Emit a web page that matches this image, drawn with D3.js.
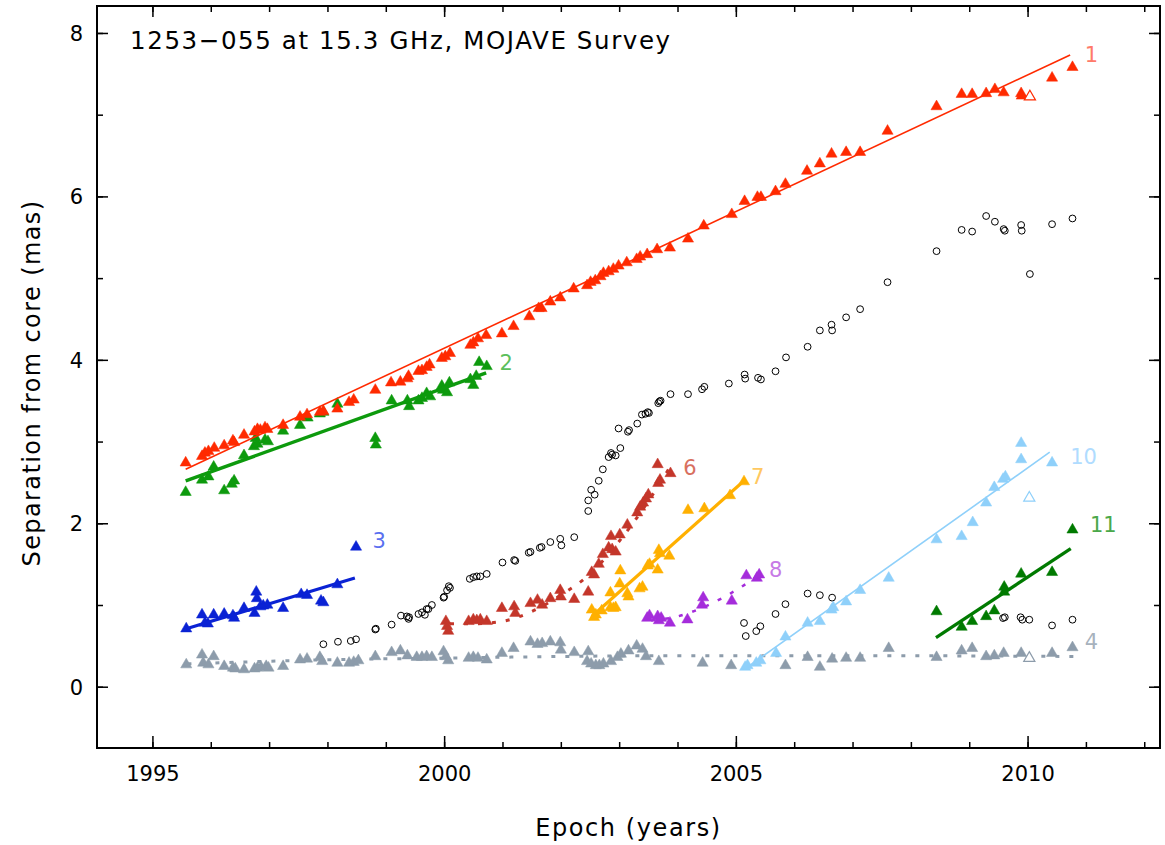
<!DOCTYPE html>
<html>
<head>
<meta charset="utf-8">
<script src="https://cdn.jsdelivr.net/npm/d3@7"></script>
<style>
  html, body { margin: 0; padding: 0; background: #fff; }
  svg { display: block; }
  text { font-family: "DejaVu Sans", sans-serif; }
</style>
</head>
<body>
<script>
// ---------------- DATA ----------------
const titleText = "1253\u2212055 at 15.3 GHz, MOJAVE Survey";
const xTitle = "Epoch (years)";
const yTitle = "Separation from core (mas)";
const xMajorTicks = [1995, 2000, 2005, 2010];
const xMinorTicks = [1995,1996,1997,1998,1999,2000,2001,2002,2003,2004,2005,2006,2007,2008,2009,2010,2011,2012];
const yMajorTicks = [0, 2, 4, 6, 8];
const yMinorTicks = [0, 1, 2, 3, 4, 5, 6, 7, 8];

// component 1 (red)
const comp1 = [[1995.57,2.74],[1995.85,2.82],[1995.90,2.86],[1995.96,2.88],[1996.06,2.92],[1996.23,2.95],[1996.38,3.01],[1996.40,2.99],[1996.57,3.08],[1996.75,3.12],[1996.80,3.15],[1996.85,3.14],[1996.93,3.17],[1996.97,3.15],[1997.24,3.20],[1997.53,3.30],[1997.65,3.33],[1997.87,3.36],[1997.93,3.37],[1998.17,3.40],[1998.37,3.48],[1998.45,3.51],[1998.82,3.63],[1999.09,3.72],[1999.25,3.73],[1999.37,3.77],[1999.39,3.80],[1999.56,3.86],[1999.62,3.87],[1999.70,3.91],[1999.75,3.94],[1999.96,4.02],[2000.02,4.04],[2000.10,4.08],[2000.45,4.18],[2000.50,4.21],[2000.58,4.26],[2000.72,4.30],[2000.99,4.32],[2001.19,4.41],[2001.46,4.53],[2001.62,4.63],[2001.67,4.63],[2001.82,4.71],[2001.99,4.76],[2002.22,4.87],[2002.45,4.91],[2002.51,4.95],[2002.59,4.97],[2002.68,5.02],[2002.73,5.06],[2002.82,5.08],[2002.90,5.11],[2002.99,5.15],[2003.13,5.19],[2003.30,5.23],[2003.36,5.26],[2003.48,5.29],[2003.65,5.35],[2003.87,5.37],[2004.18,5.48],[2004.45,5.64],[2004.93,5.78],[2005.15,5.94],[2005.37,5.99],[2005.43,5.99],[2005.68,6.06],[2005.85,6.15],[2006.22,6.31],[2006.44,6.40],[2006.64,6.52],[2006.89,6.54],[2007.13,6.54],[2007.60,6.80],[2008.44,7.10],[2008.87,7.25],[2009.05,7.25],[2009.29,7.26],[2009.44,7.31],[2009.59,7.27],[2009.89,7.26],[2009.90,7.23],[2010.42,7.45],[2010.77,7.58]];
const comp1Open = [[2010.04,7.22]];
const fit1 = [[1995.57,2.66],[2010.73,7.73]];

// component 2 (green)
const comp2 = [[1995.57,2.38],[1995.85,2.53],[1995.96,2.57],[1996.05,2.69],[1996.23,2.40],[1996.36,2.48],[1996.40,2.52],[1996.57,2.83],[1996.74,2.94],[1996.77,3.04],[1996.80,2.97],[1996.93,3.02],[1996.98,3.00],[1997.24,3.13],[1997.53,3.20],[1997.66,3.29],[1997.87,3.34],[1997.93,3.36],[1998.17,3.46],[1998.82,3.04],[1998.83,2.96],[1999.10,3.50],[1999.37,3.50],[1999.40,3.43],[1999.56,3.50],[1999.62,3.53],[1999.70,3.59],[1999.76,3.55],[1999.96,3.68],[1999.98,3.63],[2000.05,3.60],[2000.09,3.72],[2000.45,3.76],[2000.50,3.69],[2000.55,3.80],[2000.60,3.97],[2000.73,3.92]];
const fit2 = [[1995.57,2.52],[2000.72,3.84]];

// component 3 (blue)
const comp3 = [[1995.58,0.71],[1995.85,0.88],[1995.90,0.78],[1995.95,0.77],[1996.05,0.88],[1996.23,0.89],[1996.38,0.87],[1996.40,0.84],[1996.57,0.96],[1996.75,0.90],[1996.78,1.16],[1996.79,1.08],[1996.85,0.98],[1996.90,0.99],[1996.97,1.00],[1997.24,0.96],[1997.55,1.13],[1997.65,1.12],[1997.89,1.05],[1997.93,1.03],[1998.17,1.25],[1998.49,1.71]];
const fit3 = [[1995.58,0.71],[1998.47,1.33]];

// component 4 (grey)
const comp4 = [[1995.58,0.27],[1995.85,0.39],[1995.87,0.29],[1995.96,0.27],[1996.05,0.37],[1996.23,0.25],[1996.38,0.23],[1996.42,0.22],[1996.57,0.21],[1996.75,0.22],[1996.80,0.23],[1996.86,0.24],[1996.95,0.25],[1996.99,0.23],[1997.24,0.25],[1997.53,0.33],[1997.65,0.34],[1997.87,0.36],[1997.91,0.31],[1998.17,0.29],[1998.37,0.29],[1998.45,0.30],[1998.53,0.32],[1998.82,0.37],[1999.10,0.42],[1999.25,0.44],[1999.37,0.38],[1999.53,0.36],[1999.62,0.36],[1999.70,0.37],[1999.79,0.36],[1999.99,0.43],[2000.03,0.37],[2000.07,0.32],[2000.42,0.35],[2000.50,0.36],[2000.58,0.35],[2000.73,0.33],[2000.99,0.41],[2001.19,0.47],[2001.48,0.55],[2001.60,0.52],[2001.68,0.53],[2001.82,0.55],[2001.99,0.54],[2002.00,0.45],[2002.23,0.42],[2002.47,0.43],[2002.45,0.31],[2002.52,0.28],[2002.60,0.26],[2002.66,0.26],[2002.73,0.28],[2002.86,0.31],[2002.97,0.36],[2003.03,0.40],[2003.16,0.44],[2003.30,0.50],[2003.40,0.46],[2003.46,0.37],[2003.68,0.31],[2004.43,0.29],[2004.92,0.26],[2005.85,0.26],[2006.23,0.36],[2006.44,0.24],[2006.65,0.34],[2006.89,0.35],[2007.13,0.35],[2007.62,0.47],[2008.44,0.36],[2008.87,0.44],[2009.05,0.47],[2009.29,0.37],[2009.43,0.38],[2009.59,0.41],[2009.89,0.41],[2010.42,0.41],[2010.77,0.48]];
const comp4Open = [[2010.03,0.35]];
const fit4 = [[1995.6,0.28],[1998.0,0.33],[2000.0,0.35],[2002.0,0.37],[2004.0,0.38],[2007.0,0.38],[2010.8,0.37]];

// component 6 (dark red)
const comp6 = [[2000.03,0.80],[2000.05,0.74],[2000.07,0.68],[2000.42,0.80],[2000.50,0.82],[2000.56,0.81],[2000.62,0.82],[2000.73,0.80],[2000.99,0.96],[2001.20,0.98],[2001.22,0.90],[2001.48,1.02],[2001.60,1.06],[2001.68,1.00],[2001.82,1.08],[2001.99,1.18],[2002.00,1.10],[2002.23,1.07],[2002.47,1.16],[2002.53,1.40],[2002.57,1.37],[2002.65,1.50],[2002.72,1.62],[2002.82,1.70],[2002.88,1.68],[2002.94,1.65],[2002.86,1.84],[2003.01,1.86],[2003.14,1.98],[2003.31,2.13],[2003.36,2.20],[2003.41,2.25],[2003.46,2.30],[2003.50,2.35],[2003.67,2.49],[2003.70,2.53],[2003.66,2.72],[2003.88,2.61]];
const fit6 = [[2000.1,0.77],[2000.5,0.77],[2001.0,0.80],[2001.5,0.92],[2002.0,1.12],[2002.5,1.38],[2003.0,1.78],[2003.5,2.27],[2003.88,2.70]];

// component 7 (orange)
const comp7 = [[2002.53,0.94],[2002.57,0.85],[2002.60,0.88],[2002.70,0.93],[2002.85,0.97],[2002.90,0.96],[2002.94,0.97],[2002.85,1.15],[2003.01,1.26],[2003.02,1.42],[2003.14,1.14],[2003.16,1.10],[2003.35,1.20],[2003.40,1.22],[2003.49,1.48],[2003.52,1.50],[2003.66,1.43],[2003.68,1.67],[2003.70,1.63],[2003.86,1.60],[2004.18,2.16],[2004.46,2.18],[2004.90,2.34],[2005.14,2.51]];
const fit7 = [[2002.53,0.86],[2005.14,2.52]];

// component 8 (purple)
const comp8 = [[2003.48,0.84],[2003.52,0.87],[2003.66,0.86],[2003.68,0.81],[2003.72,0.84],[2003.87,0.78],[2004.17,0.82],[2004.42,1.00],[2004.44,1.09],[2004.93,1.05],[2005.18,1.36],[2005.36,1.33],[2005.40,1.37]];
const fit8 = [[2003.55,0.81],[2004.0,0.86],[2004.5,0.99],[2005.0,1.18],[2005.39,1.36]];

// component 10 (light blue)
const comp10 = [[2005.16,0.24],[2005.20,0.26],[2005.35,0.29],[2005.42,0.32],[2005.69,0.41],[2005.85,0.61],[2006.23,0.78],[2006.44,0.80],[2006.64,0.94],[2006.67,0.97],[2006.89,1.04],[2007.13,1.18],[2007.62,1.33],[2008.44,1.80],[2008.87,1.84],[2009.06,2.01],[2009.29,2.25],[2009.43,2.44],[2009.58,2.54],[2009.62,2.57],[2009.89,2.98],[2009.89,2.78],[2010.42,2.74]];
const comp10Open = [[2010.03,2.31]];
const fit10 = [[2005.16,0.22],[2010.38,2.87]];

// component 11 (dark green)
const comp11 = [[2008.44,0.92],[2008.87,0.73],[2009.05,0.80],[2009.29,0.86],[2009.43,0.93],[2009.60,1.22],[2009.60,1.16],[2009.89,1.38],[2010.42,1.40],[2010.77,1.92]];
const fit11 = [[2008.43,0.60],[2010.74,1.69]];

// unassigned components (open circles)
const others = [[1997.93,0.52],[1998.18,0.55],[1998.40,0.56],[1998.49,0.58],[1998.82,0.70],[1998.83,0.71],[1999.10,0.76],[1999.26,0.87],[1999.36,0.86],[1999.39,0.83],[1999.40,0.85],[1999.56,0.89],[1999.62,0.91],[1999.67,0.88],[1999.70,0.95],[1999.73,0.95],[1999.79,1.00],[1999.99,1.09],[2000.00,1.10],[2000.05,1.18],[2000.08,1.23],[2000.10,1.21],[2000.44,1.32],[2000.50,1.34],[2000.56,1.35],[2000.62,1.35],[2000.73,1.38],[2001.00,1.52],[2001.20,1.55],[2001.22,1.54],[2001.45,1.64],[2001.48,1.65],[2001.64,1.70],[2001.67,1.71],[2001.82,1.77],[2001.99,1.81],[2002.01,1.73],[2002.23,1.83],[2002.47,2.15],[2002.47,2.28],[2002.52,2.41],[2002.58,2.35],[2002.65,2.52],[2002.72,2.66],[2002.82,2.81],[2002.86,2.86],[2002.88,2.84],[2002.94,2.83],[2003.02,2.92],[2002.99,3.16],[2003.15,3.12],[2003.17,3.14],[2003.31,3.22],[2003.39,3.33],[2003.45,3.34],[2003.49,3.36],[2003.51,3.35],[2003.67,3.47],[2003.69,3.49],[2003.71,3.50],[2003.88,3.58],[2004.18,3.58],[2004.42,3.64],[2004.46,3.67],[2004.88,3.71],[2005.15,3.82],[2005.16,3.77],[2005.38,3.78],[2005.43,3.76],[2005.68,3.86],[2005.86,4.03],[2006.23,4.16],[2006.44,4.36],[2006.64,4.43],[2006.65,4.36],[2006.89,4.52],[2007.13,4.62],[2007.60,4.95],[2008.44,5.33],[2008.87,5.59],[2009.05,5.57],[2009.29,5.76],[2009.44,5.69],[2009.59,5.60],[2009.61,5.58],[2009.89,5.65],[2009.90,5.58],[2010.04,5.05],[2010.42,5.66],[2010.77,5.73],[2005.14,0.78],[2005.17,0.62],[2005.35,0.68],[2005.42,0.74],[2005.68,0.89],[2005.85,1.01],[2006.23,1.14],[2006.44,1.12],[2006.65,1.09],[2009.58,0.84],[2009.61,0.85],[2009.88,0.85],[2009.91,0.82],[2010.03,0.82],[2010.42,0.75],[2010.77,0.82]];

const labels = [
  {text:"1",  x:2010.98, y:7.64, color:"#ff7a6a"},
  {text:"2",  x:2000.95, y:3.88, color:"#5cbf5c"},
  {text:"3",  x:1998.77, y:1.70, color:"#5a6ff0"},
  {text:"4",  x:2010.98, y:0.46, color:"#a7b2bd"},
  {text:"6",  x:2004.10, y:2.59, color:"#d8705f"},
  {text:"7",  x:2005.26, y:2.48, color:"#ffc860"},
  {text:"8",  x:2005.57, y:1.34, color:"#c77ae6"},
  {text:"10", x:2010.73, y:2.73, color:"#b0dcff"},
  {text:"11", x:2011.07, y:1.89, color:"#4aa84a"}
];

// ---------------- CHART ----------------
(function () {
const W = 1165, H = 845;
const mLeft = 97, mRight = 1160, mTop = 6, mBottom = 748;
const svg = d3.select("body").append("svg").attr("width", W).attr("height", H);

const x = d3.scaleLinear().domain([1994.05, 2012.27]).range([mLeft, mRight]);
const y = d3.scaleLinear().domain([-0.75, 8.33]).range([mBottom, mTop]);

const plot = svg.append("g");
const line = d3.line().x(d => x(d[0])).y(d => y(d[1]));
const curve = d3.line().x(d => x(d[0])).y(d => y(d[1])).curve(d3.curveMonotoneX);
const tri = d3.symbol().type(d3.symbolTriangle).size(54);

function drawTris(data, color, open) {
  plot.append("g").selectAll("path").data(data).join("path")
    .attr("transform", d => `translate(${x(d[0])},${y(d[1])})`)
    .attr("d", tri)
    .attr("fill", open ? "#fff" : color)
    .attr("stroke", color)
    .attr("stroke-width", open ? 1.2 : 0.5);
}
function drawFit(data, color, width, dotted) {
  const p = plot.append("path").datum(data)
    .attr("d", dotted ? curve : line)
    .attr("fill", "none").attr("stroke", color).attr("stroke-width", width);
  if (dotted) p.attr("stroke-dasharray", "4,10");
}

drawFit(fit4, "#8d9cab", 3, true);
drawTris(comp4, "#8d9cab", false);
drawTris(comp4Open, "#8d9cab", true);

plot.append("g").selectAll("circle").data(others).join("circle")
  .attr("cx", d => x(d[0])).attr("cy", d => y(d[1])).attr("r", 3.4)
  .attr("fill", "none").attr("stroke", "#000").attr("stroke-width", 1);

drawTris(comp3, "#0a22d4", false);
drawFit(fit3, "#0a22d4", 3.2, false);
drawTris(comp6, "#c4362a", false);
drawFit(fit6, "#c4362a", 3, true);
drawTris(comp7, "#ffb000", false);
drawFit(fit7, "#ffb000", 3.2, false);
drawTris(comp8, "#a52cdb", false);
drawFit(fit8, "#a52cdb", 2.5, true);
drawTris(comp10, "#8fd0fa", false);
drawTris(comp10Open, "#8fd0fa", true);
drawFit(fit10, "#8fd0fa", 1.6, false);
drawTris(comp11, "#007a00", false);
drawFit(fit11, "#007a00", 3.2, false);
drawTris(comp2, "#0d9a0d", false);
drawFit(fit2, "#0d9a0d", 3.5, false);
drawTris(comp1, "#ff2a00", false);
drawTris(comp1Open, "#ff2a00", true);
drawFit(fit1, "#ff2a00", 1.6, false);

svg.append("g").selectAll("text").data(labels).join("text")
  .attr("x", d => x(d.x)).attr("y", d => y(d.y))
  .attr("fill", d => d.color).attr("font-size", 21)
  .text(d => d.text);

const axG = svg.append("g");
function styleAxis(g) {
  g.select(".domain").remove();
  g.selectAll(".tick line").attr("stroke", "#000").attr("stroke-width", 1.5);
  g.selectAll("text").attr("font-family", "DejaVu Sans, sans-serif").attr("fill", "#000");
}
axG.append("g").attr("transform", `translate(0,${mBottom})`)
  .call(d3.axisBottom(x).tickValues(xMinorTicks).tickSize(-6).tickFormat(""))
  .call(styleAxis);
axG.append("g").attr("transform", `translate(0,${mBottom})`)
  .call(d3.axisBottom(x).tickValues(xMajorTicks).tickSize(-12).tickFormat(d3.format("d")))
  .call(styleAxis)
  .call(g => g.selectAll("text").attr("font-size", 21).attr("dy", "0").attr("y", 33));
axG.append("g").attr("transform", `translate(0,${mTop})`)
  .call(d3.axisTop(x).tickValues(xMinorTicks).tickSize(-6).tickFormat(""))
  .call(styleAxis);
axG.append("g").attr("transform", `translate(0,${mTop})`)
  .call(d3.axisTop(x).tickValues(xMajorTicks).tickSize(-11).tickFormat(""))
  .call(styleAxis);
axG.append("g").attr("transform", `translate(${mLeft},0)`)
  .call(d3.axisLeft(y).tickValues(yMinorTicks).tickSize(-6).tickFormat(""))
  .call(styleAxis);
axG.append("g").attr("transform", `translate(${mLeft},0)`)
  .call(d3.axisLeft(y).tickValues(yMajorTicks).tickSize(-11).tickFormat(d3.format("d")))
  .call(styleAxis)
  .call(g => g.selectAll("text").attr("font-size", 21).attr("x", -14).attr("dy", "0.36em"));
axG.append("g").attr("transform", `translate(${mRight},0)`)
  .call(d3.axisRight(y).tickValues(yMinorTicks).tickSize(-6).tickFormat(""))
  .call(styleAxis);
axG.append("g").attr("transform", `translate(${mRight},0)`)
  .call(d3.axisRight(y).tickValues(yMajorTicks).tickSize(-11).tickFormat(""))
  .call(styleAxis);

svg.append("rect").attr("x", mLeft).attr("y", mTop)
  .attr("width", mRight - mLeft).attr("height", mBottom - mTop)
  .attr("fill", "none").attr("stroke", "#000").attr("stroke-width", 2);

svg.append("text").attr("x", 130).attr("y", 49).attr("font-size", 24.5)
  .attr("letter-spacing", 1.6).attr("fill", "#000").text(titleText);
svg.append("text").attr("x", (mLeft + mRight) / 2).attr("y", 836).attr("text-anchor", "middle")
  .attr("font-size", 24).attr("letter-spacing", 1.6).attr("fill", "#000").text(xTitle);
svg.append("text").attr("transform", `translate(40,${(mTop + mBottom) / 2 + 6}) rotate(-90)`)
  .attr("text-anchor", "middle").attr("font-size", 24).attr("letter-spacing", 1.4)
  .attr("fill", "#000").text(yTitle);
})();
</script>
</body>
</html>
